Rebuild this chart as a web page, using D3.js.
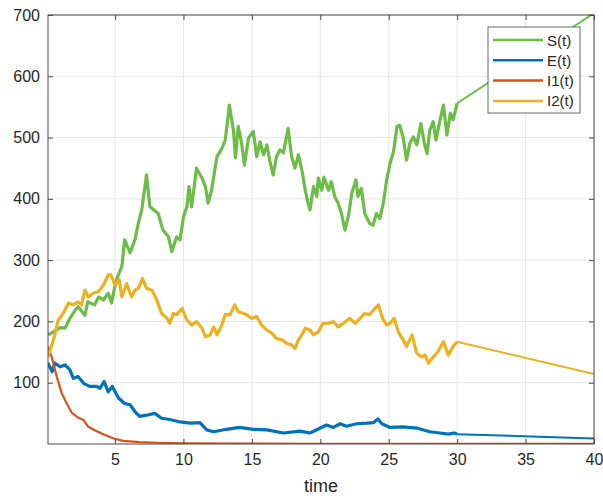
<!DOCTYPE html>
<html><head><meta charset="utf-8">
<script src="https://cdn.jsdelivr.net/npm/d3@7"></script>
<style>body{margin:0;background:#fff}svg{display:block}text{font-family:"Liberation Sans",Arial,Helvetica,sans-serif}</style>
</head><body>
<svg id="c" width="603" height="496"></svg>
<script>
// ---- data ----
const sTime=[0.1,0.5,1.0,1.35,1.7,2.1,2.3,2.8,3.0,3.5,3.8,4.15,4.5,4.75,4.9,5.1,5.5,5.7,6.1,6.45,6.7,6.95,7.3,7.55,8.15,8.5,8.9,9.15,9.5,9.75,10.0,10.25,10.4,10.6,10.95,11.35,11.6,11.8,12.05,12.45,12.8,13.05,13.2,13.35,13.65,13.8,14.0,14.25,14.45,14.75,15.1,15.35,15.6,15.85,16.1,16.3,16.55,16.8,17.05,17.3,17.65,17.9,18.15,18.4,18.65,18.9,19.1,19.25,19.5,19.75,19.85,20.1,20.27,20.6,20.8,21.05,21.3,21.55,21.8,22.05,22.3,22.6,22.75,23.0,23.25,23.6,23.85,24.1,24.35,24.6,24.85,25.1,25.35,25.6,25.8,26.05,26.3,26.55,26.8,27.05,27.35,27.6,27.8,28.0,28.25,28.45,28.75,29.0,29.25,29.5,29.7,30.0,40];
const sVals=[178,183,190,189,205,219,224,210,232,227,240,235,246,230,248,268,290,333,312,333,360,382,439,387,376,349,338,314,338,333,371,387,420,387,450,434,420,393,414,469,482,496,523,553,512,467,518,491,455,499,510,469,493,472,488,463,439,469,480,475,515,469,450,472,447,414,393,382,420,404,434,414,435,414,428,404,393,376,349,371,409,431,404,417,376,360,357,376,368,393,431,458,477,518,520,501,463,491,501,488,523,491,474,512,526,496,529,553,504,540,529,556,703];

const eTime=[0.1,0.4,0.6,0.98,1.35,1.7,1.95,2.3,2.7,3.15,3.65,3.9,4.2,4.5,4.8,5.25,5.7,6.1,6.45,6.8,7.3,7.9,8.4,9.0,9.75,10.5,11.2,11.7,12.2,13.15,14.1,15.1,16.1,17.3,18.5,19.25,20.0,20.45,20.95,21.45,21.9,22.65,23.4,23.9,24.2,24.5,25.1,26.05,27.05,28.0,28.75,29.35,29.8,30.0,40];
const eVals=[132,118,132,126,129,121,107,110,99,94,94,91,102,85,94,75,66,64,53,45,47,50,42,40,36,34,35,23,20,24,27,24,23,18,21,18,26,31,27,33,29,33,34,35,41,33,27,28,26,20,18,16,18,16,9];

const i1Time=[0.1,0.37,0.74,1.1,1.47,1.83,2.3,2.7,3.05,3.55,4.15,4.9,5.6,6.8,8.0,10.0,15.0,20.0,30.0,40];
const i1Vals=[159,142,110,83,66,51,43,39,28,22,16,9,5,3,2,1,0.5,0.4,0.3,0.3];

const i2Time=[0.1,0.5,0.85,1.2,1.6,1.95,2.3,2.55,2.8,3.05,3.4,3.8,4.15,4.5,4.7,5.0,5.3,5.5,5.85,6.2,6.45,6.7,7.0,7.3,7.7,8.05,8.4,8.8,9.0,9.25,9.5,9.9,10.25,10.6,10.95,11.35,11.6,11.95,12.2,12.45,12.8,13.05,13.4,13.75,14.0,14.4,14.6,15.0,15.35,15.7,16.1,16.45,16.8,17.2,17.55,17.9,18.15,18.4,18.65,18.9,19.25,19.5,19.85,20.2,20.6,20.95,21.3,21.7,22.15,22.55,22.9,23.25,23.6,24.0,24.25,24.55,24.85,25.1,25.4,25.7,26.05,26.3,26.7,27.05,27.4,27.65,27.9,28.25,28.6,29.0,29.35,29.7,30.0,40];
const i2Vals=[142,170,202,213,230,227,232,227,251,240,246,249,259,276,276,259,268,240,262,240,251,254,270,254,251,235,213,205,197,213,211,221,202,194,200,189,175,178,191,178,194,211,211,227,216,213,211,205,208,194,186,181,172,170,164,162,156,170,178,189,186,178,183,197,197,200,191,197,205,197,205,213,211,221,227,205,194,197,205,183,170,159,178,148,142,145,132,142,151,167,145,159,167,114];

const seriesNames=["S(t)","E(t)","I1(t)","I2(t)"];
const seriesColors=["#6cbd45","#0072BD","#D95319","#EDB120"];
const xTicks=[5,10,15,20,25,30,35,40];
const yTicks=[100,200,300,400,500,600,700];
const xLabel="time";

// ---- layout ----
const svg=d3.select("#c");
const L=48,R=594,T=15,B=444;
const x=d3.scaleLinear().domain([0.1,40]).range([L,R]);
const y=d3.scaleLinear().domain([0,700]).range([B,T]);

svg.append("defs").append("clipPath").attr("id","clip")
  .append("rect").attr("x",L).attr("y",T-1).attr("width",R-L).attr("height",B-T+1);

// grid
const g=svg.append("g");
g.selectAll(".gx").data(xTicks).join("line").attr("x1",d=>x(d)).attr("x2",d=>x(d)).attr("y1",T).attr("y2",B).attr("stroke","#e6e6e6").attr("stroke-width",1);
g.selectAll(".gy").data(yTicks).join("line").attr("y1",d=>y(d)).attr("y2",d=>y(d)).attr("x1",L).attr("x2",R).attr("stroke","#e6e6e6").attr("stroke-width",1);

// series
const all=[[sTime,sVals],[eTime,eVals],[i1Time,i1Vals],[i2Time,i2Vals]];
const line=d3.line().x(d=>x(d[0])).y(d=>y(d[1]));
const lg=svg.append("g").attr("clip-path","url(#clip)");
all.forEach((s,i)=>{
  const pts=s[0].map((t,k)=>[t,s[1][k]]);
  const noisy=pts.filter(p=>p[0]<=30);
  const det=pts.filter(p=>p[0]>=30);
  lg.append("path").datum(det).attr("d",line).attr("fill","none").attr("stroke",seriesColors[i]).attr("stroke-width",2);
  lg.append("path").datum(noisy).attr("d",line).attr("fill","none").attr("stroke",seriesColors[i]).attr("stroke-width",i===2?2.2:3.2).attr("stroke-linejoin","round");
});

// axes box and ticks
const ax="#4a4a4a";
svg.append("rect").attr("x",L).attr("y",T).attr("width",R-L).attr("height",B-T).attr("fill","none").attr("stroke",ax).attr("stroke-width",1);
const xa=d3.axisBottom(x).tickValues(xTicks).tickSizeInner(-5).tickSizeOuter(0).tickPadding(10).tickFormat(d3.format("d"));
const ya=d3.axisLeft(y).tickValues(yTicks).tickSizeInner(-5).tickSizeOuter(0).tickPadding(8).tickFormat(d3.format("d"));
const gx=svg.append("g").attr("transform",`translate(0,${B})`).call(xa);
const gy=svg.append("g").attr("transform",`translate(${L},0)`).call(ya);
const gx2=svg.append("g").attr("transform",`translate(0,${T})`).call(d3.axisTop(x).tickValues(xTicks).tickSizeInner(-5).tickSizeOuter(0).tickFormat(""));
const gy2=svg.append("g").attr("transform",`translate(${R},0)`).call(d3.axisRight(y).tickValues(yTicks).tickSizeInner(-5).tickSizeOuter(0).tickFormat(""));
[gx,gy,gx2,gy2].forEach(a=>{a.select(".domain").remove();a.selectAll(".tick line").attr("stroke",ax);a.selectAll("text").attr("fill","#262626").style("font-size","16px").style("font-family","'Liberation Sans',Arial,sans-serif");});

svg.append("text").attr("x",(L+R)/2).attr("y",492).attr("text-anchor","middle").attr("fill","#262626").style("font-size","18px").text(xLabel);

// legend
const leg=svg.append("g");
leg.append("rect").attr("x",488).attr("y",27).attr("width",92).attr("height",86).attr("fill","#fff").attr("stroke","#666").attr("stroke-width",1);
seriesNames.forEach((n,i)=>{
  const yy=40+i*20.3;
  leg.append("line").attr("x1",493).attr("x2",543).attr("y1",yy).attr("y2",yy).attr("stroke",seriesColors[i]).attr("stroke-width",2.5);
  leg.append("text").attr("x",547).attr("y",yy+5.5).attr("fill","#262626").style("font-size","15px").text(n);
});
</script>
</body></html>
